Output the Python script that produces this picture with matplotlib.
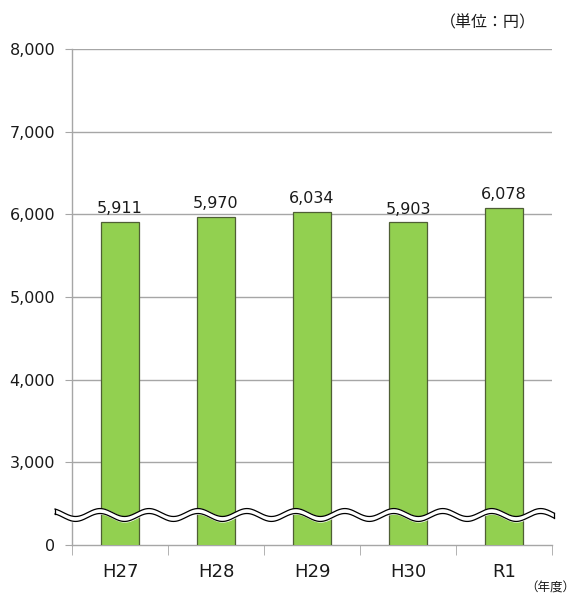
import numpy as np
import matplotlib.pyplot as plt

plt.rcParams["font.family"] = ["DejaVu Sans", "Noto Sans CJK JP"]

# 年度別の金額（円）
years = ["H27", "H28", "H29", "H30", "R1"]
amounts = [5911, 5970, 6034, 5903, 6078]
y_ticks = [2000, 3000, 4000, 5000, 6000, 7000, 8000]
y_tick_labels = ["0", "3,000", "4,000", "5,000", "6,000", "7,000", "8,000"]

# 0〜3,000 の間は省略（波線で表示）
AXIS_FLOOR = 2000
BAR_COLOR = "#92D050"
BAR_EDGE = "#4F5F35"
GRID_COLOR = "#A6A6A6"
TEXT_COLOR = "#1A1A1A"

fig = plt.figure(figsize=(5.77, 5.97), dpi=100)
ax = fig.add_axes([0.1248, 0.0871, 0.8319, 0.8308])

x = np.arange(len(years))
bars = ax.bar(x, amounts, width=0.4, color=BAR_COLOR, edgecolor=BAR_EDGE,
              linewidth=0.9, zorder=3)

for rect, value in zip(bars, amounts):
    ax.annotate(f"{value:,}", (rect.get_x() + rect.get_width() / 2, value),
                xytext=(0, 4), textcoords="offset points", ha="center",
                va="bottom", fontsize=11.5, color=TEXT_COLOR)

ax.set_xlim(-0.5, len(years) - 0.5)
ax.set_ylim(AXIS_FLOOR, 8000)

ax.set_yticks(y_ticks)
ax.set_yticklabels(y_tick_labels)
ax.tick_params(axis="y", length=5, color=GRID_COLOR, pad=7,
               labelsize=11.5, labelcolor=TEXT_COLOR)
for y in y_ticks[1:]:
    ax.axhline(y, color=GRID_COLOR, linewidth=1.0, zorder=1)

# 区切り目盛りはカテゴリの境界、ラベルは中央
ax.set_xticks(x)
ax.set_xticklabels(years)
ax.set_xticks(np.arange(len(years) + 1) - 0.5, minor=True)
ax.tick_params(axis="x", which="major", length=0, pad=13,
               labelsize=13, labelcolor=TEXT_COLOR)
ax.tick_params(axis="x", which="minor", length=7, color=GRID_COLOR)

for side in ("top", "right"):
    ax.spines[side].set_visible(False)
for side in ("left", "bottom"):
    ax.spines[side].set_color(GRID_COLOR)
    ax.spines[side].set_linewidth(1.0)

# 省略を示す波線
wx = np.linspace(-0.677, 4.525, 600)
wy = 2363 + 48 * np.cos(2 * np.pi * (wx + 0.208) / 0.51)
half = 30
ax.fill_between(wx, wy - half, wy + half, color="white", zorder=4, clip_on=False)
ax.plot(wx, wy + half, color="black", linewidth=0.9, zorder=5, clip_on=False)
ax.plot(wx, wy - half, color="black", linewidth=0.9, zorder=5, clip_on=False)
for i in (0, -1):
    ax.plot([wx[i], wx[i]], [wy[i] - half, wy[i] + half], color="black",
            linewidth=0.9, zorder=5, clip_on=False)

fig.text(0.928, 0.961, "（単位：円）", ha="right", va="center", fontsize=11.5,
         color=TEXT_COLOR, family=["Noto Sans CJK JP", "DejaVu Sans"])
fig.text(0.997, 0.015, "（年度）", ha="right", va="center", fontsize=9,
         color=TEXT_COLOR, family=["Noto Sans CJK JP", "DejaVu Sans"])

fig.savefig("out.png", dpi=100, facecolor="white")
